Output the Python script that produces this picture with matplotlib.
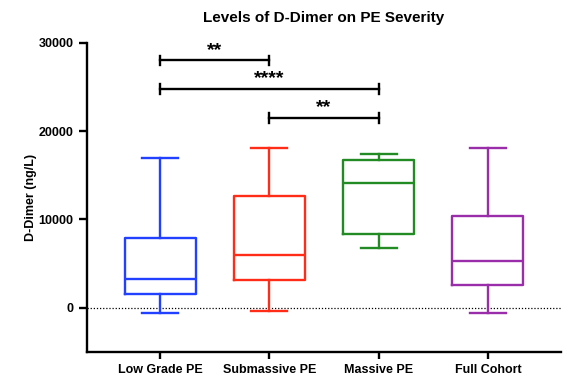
import matplotlib
matplotlib.use('Agg')
import matplotlib.pyplot as plt

plt.rcParams['font.family'] = ['Liberation Sans', 'DejaVu Sans']
plt.rcParams['font.weight'] = 'bold'

# Data (ng/L)
groups = ['Low Grade PE', 'Submassive PE', 'Massive PE', 'Full Cohort']
mins = [-550, -350, 6750, -550]
q1s = [1600, 3150, 8300, 2600]
medians = [3200, 6000, 14100, 5250]
q3s = [7900, 12600, 16700, 10350]
maxs = [17000, 18100, 17450, 18100]
colors = ['#2140ff', '#ff2d17', '#238b23', '#9a2eaa']

# Significance comparisons: (group a, group b, bar height, label)
sig_pairs = [(1, 2, 28000, '**'), (1, 3, 24800, '****'), (2, 3, 21500, '**')]

stats = [
    dict(whislo=lo, q1=a, med=m, q3=b, whishi=hi, fliers=[])
    for lo, a, m, b, hi in zip(mins, q1s, medians, q3s, maxs)
]

fig = plt.figure(figsize=(5.68, 3.82), dpi=100)
ax = fig.add_axes([0.153, 0.079, 0.835, 0.809])

positions = range(1, len(groups) + 1)
for pos, st, c in zip(positions, stats, colors):
    ax.bxp([st], positions=[pos], widths=0.65, capwidths=0.33,
           showfliers=False,
           boxprops=dict(color=c, linewidth=1.7),
           medianprops=dict(color=c, linewidth=1.7),
           whiskerprops=dict(color=c, linewidth=1.7),
           capprops=dict(color=c, linewidth=1.7))

ax.axhline(0, color='black', linestyle=(0, (1, 1.5)), linewidth=0.9, zorder=0)

for a, b, y, label in sig_pairs:
    ax.plot([a, b], [y, y], color='black', linewidth=1.7)
    for x in (a, b):
        ax.plot([x, x], [y - 550, y + 550], color='black', linewidth=1.7)
    ax.text((a + b) / 2, y + 150, label, ha='center', va='bottom',
            fontsize=14, fontweight='bold')

ax.set_xlim(0.33, 4.67)
ax.set_ylim(-5000, 30000)
ax.set_yticks([0, 10000, 20000, 30000])
ax.set_xticks(list(positions))
ax.set_xticklabels(groups, fontsize=9, fontweight='bold')
ax.tick_params(axis='y', labelsize=9, width=1.7, length=6)
ax.tick_params(axis='x', width=1.7, length=5)
for lab in ax.get_yticklabels():
    lab.set_fontweight('bold')

ax.spines['top'].set_visible(False)
ax.spines['right'].set_visible(False)
ax.spines['left'].set_linewidth(1.7)
ax.spines['bottom'].set_linewidth(1.7)

ax.set_ylabel('D-Dimer (ng/L)', fontsize=9, fontweight='bold', labelpad=1)
ax.set_title('Levels of D-Dimer on PE Severity', fontsize=11,
             fontweight='bold', pad=15)

fig.savefig('out.png', dpi=100)
